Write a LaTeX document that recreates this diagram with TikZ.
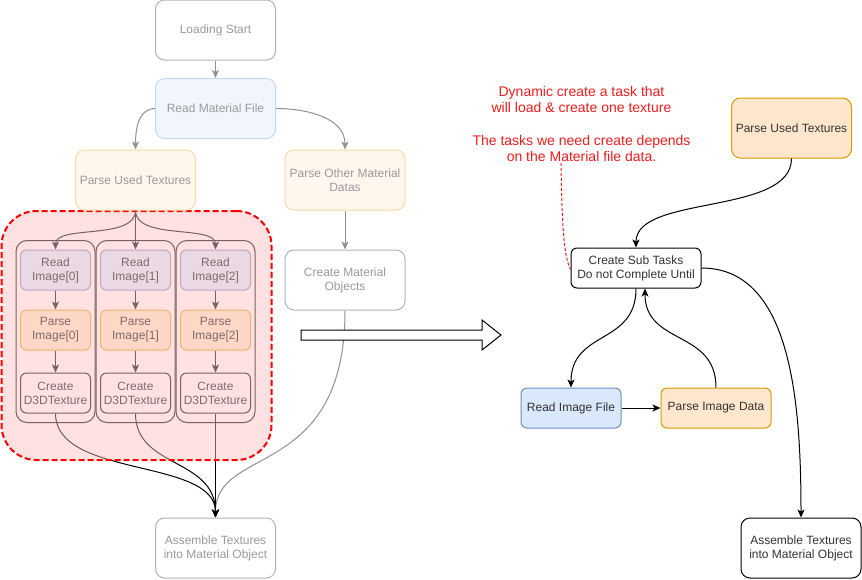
\documentclass[tikz,border=0pt]{standalone}
\usepackage{fontspec}
\setmainfont{Liberation Sans}
\usetikzlibrary{arrows.meta}
\pgfdeclarelayer{lines}
\pgfdeclarelayer{tint}
\pgfsetlayers{lines,tint,main}
\newcommand\dgmfont{\fontsize{12}{14}\selectfont}
\newcommand\notefont{\fontsize{14}{16.1}\selectfont}
\definecolor{fadeline}{HTML}{B3B3B3}
\definecolor{fadetext}{HTML}{9A9A9A}
\definecolor{fadearrowc}{HTML}{919191}
\definecolor{fadeblueF}{HTML}{F1F6FD}
\definecolor{fadeblueD}{HTML}{C8D7EC}
\definecolor{fadeorgF}{HTML}{FFF6EE}
\definecolor{fadeorgD}{HTML}{F5DCA6}
\definecolor{tintc}{HTML}{FFBFBF}
\definecolor{brownline}{HTML}{7A6060}
\definecolor{browntext}{HTML}{806B6B}
\definecolor{lilacF}{HTML}{EAD8E3}
\definecolor{lilacD}{HTML}{B9A9C6}
\definecolor{peachF}{HTML}{FFD7C7}
\definecolor{peachD}{HTML}{F0B46A}
\definecolor{darktext}{HTML}{333333}
\definecolor{blueF}{HTML}{DAE8FC}
\definecolor{blueD}{HTML}{6C8EBF}
\definecolor{orgF}{HTML}{FFE6CC}
\definecolor{orgD}{HTML}{D79B00}
\definecolor{notered}{HTML}{EC1C1C}
\begin{document}
\begin{tikzpicture}[x=1pt,y=-1pt,
  base/.style={rectangle, align=center, inner sep=0pt, line width=1pt, font=\dgmfont},
  wh/.style 2 args={minimum width=#1, minimum height=#2},
  fadebox/.style={base, draw=fadeline, fill=white, text=fadetext, rounded corners=9pt, wh={120pt}{60pt}},
  fadeblue/.style={fadebox, fill=fadeblueF, draw=fadeblueD},
  fadeorange/.style={fadebox, fill=fadeorgF, draw=fadeorgD},
  column/.style={base, draw=brownline, rounded corners=11pt, wh={79pt}{182pt}},
  readstep/.style={base, fill=lilacF, draw=lilacD, text=browntext, rounded corners=6pt, wh={70pt}{40pt}},
  parsestep/.style={readstep, fill=peachF, draw=peachD},
  createstep/.style={readstep, fill=none, draw=brownline},
  taskbox/.style={base, draw=black, fill=white, text=darktext, rounded corners=6pt},
  arr/.style={-{Stealth[length=8pt,width=7pt,inset=2pt]}},
  fadearrow/.style={draw=fadearrowc, line width=1pt, arr},
  innerarrow/.style={draw=brownline, line width=1pt, arr},
  flow/.style={draw=black, line width=1pt, arr},
  tintarea/.style={draw=red, dash pattern=on 6pt off 3pt, line width=2pt, fill=tintc, fill opacity=0.47,
    rounded corners=35pt, minimum width=270pt, minimum height=249pt, inner sep=0pt},
  notetext/.style={align=center, text=notered, font=\notefont, inner sep=0pt},
  noteline/.style={draw=notered, line width=1pt, dash pattern=on 3pt off 2pt}]

\useasboundingbox (0,0) rectangle (862,579);

% ---- left: material loading pipeline ----
\node[fadebox]    (ls)  at (215.5,30)  {Loading Start};
\node[fadeblue]   (rmf) at (215.5,108.5) {Read Material File};
\node[fadeorange] (pul) at (135.5,180) {Parse Used Textures};
\node[fadeorange] (pom) at (345,180)   {Parse Other Material\\Datas};
\node[fadebox]    (cmo) at (345,280)   {Create Material\\Objects};
\node[fadebox]    (asl) at (215.5,548) {Assemble Textures\\into Material Object};

% per-texture task columns
\foreach \i/\x in {0/55.5,1/135.5,2/215.5}{
  \node[column]     (col\i) at (\x,331.5) {};
  \node[readstep]   (ri\i)  at (\x,270) {Read\\Image[\i]};
  \node[parsestep]  (pi\i)  at (\x,330) {Parse\\Image[\i]};
  \node[createstep] (cd\i)  at (\x,393) {Create\\D3DTexture};
  \draw[innerarrow] (ri\i.south) -- (pi\i.north);
  \draw[innerarrow] (pi\i.south) -- (cd\i.north);
}
\draw[innerarrow] (pul.south) .. controls +(0,30) and +(0,-25) .. (ri0.north);
\draw[innerarrow] (pul.south) -- (ri1.north);
\draw[innerarrow] (pul.south) .. controls +(0,30) and +(0,-25) .. (ri2.north);

% dashed group tinting everything beneath it
\begin{pgfonlayer}{tint}
  \node[tintarea] (grp) at (136.5,335.5) {};
\end{pgfonlayer}

\begin{pgfonlayer}{lines}
  \draw[fadearrow] (ls.south) -- (rmf.north);
  \draw[fadearrow] (rmf.west) to[out=180,in=90] (pul.north);
  \draw[fadearrow] (rmf.east) to[out=0,in=90] (pom.north);
  \draw[fadearrow] (pom.south) -- (cmo.north);
  \draw[fadearrow] (cmo.south) .. controls +(0,170) and +(0,-73) .. (asl.north);
  \draw[flow] (cd0.south) .. controls +(0,65) and +(0,-60) .. (asl.north);
  \draw[flow] (cd1.south) .. controls +(0,55) and +(0,-60) .. (asl.north);
  \draw[flow] (cd2.south) -- (asl.north);
\end{pgfonlayer}

% ---- hollow transition arrow ----
\draw[line width=1pt, fill=white] (301,330) -- (482,330) -- (482,320) -- (501,335)
  -- (482,350) -- (482,340) -- (301,340) -- cycle;

% ---- right: dynamic sub-task scheme ----
\node[notetext] (note) at (581.5,124) {Dynamic create a task that\\will load \& create one texture\\[16.1pt]The tasks we need create depends\\on the Material file data.};
\coordinate (notetail) at (561,163);

\node[taskbox, fill=orgF, draw=orgD, rounded corners=9pt, wh={120pt}{60pt}] (pur) at (791.5,128) {Parse Used Textures};
\node[taskbox, wh={130pt}{40pt}] (cst) at (636,268) {Create Sub Tasks\\Do not Complete Until};
\node[taskbox, fill=blueF, draw=blueD, wh={100pt}{40pt}] (rif) at (571,408) {Read Image File};
\node[taskbox, fill=orgF, draw=orgD, wh={110pt}{40pt}] (pid) at (716,408) {Parse Image Data};
\node[taskbox, rounded corners=9pt, wh={120pt}{60pt}] (asr) at (801,548) {Assemble Textures\\into Material Object};

\draw[noteline] (notetail) .. controls +(1,70) and +(-6,-12) .. ([yshift=-1.5pt]cst.west);
\draw[flow] (pur.south) .. controls +(0,57) and +(0,-53) .. (cst.north);
\draw[flow] (cst.south) .. controls +(0,57) and +(0,-58) .. (rif.north);
\draw[flow] (rif.east) -- (pid.west);
\draw[flow] (pid.north) .. controls +(0,-58) and +(0,57) .. ([xshift=9pt]cst.south);
\draw[flow] (cst.east) .. controls +(89,0) and +(0,-118) .. (asr.north);

\end{tikzpicture}
\end{document}
